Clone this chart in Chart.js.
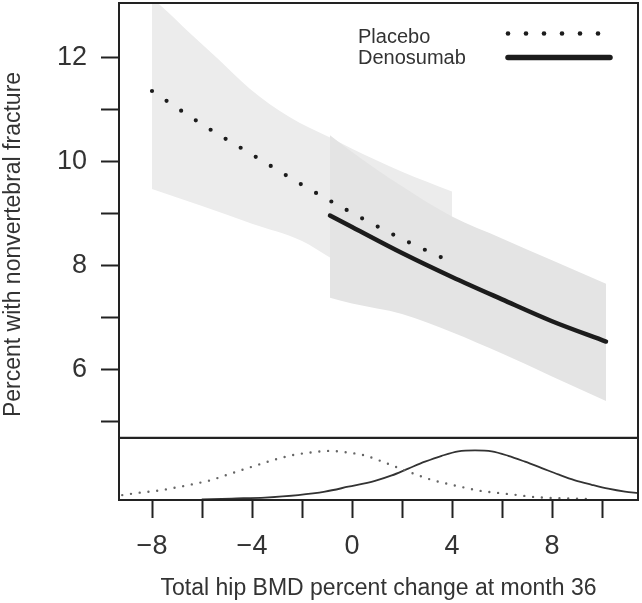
<!DOCTYPE html>
<html><head><meta charset="utf-8">
<script src="https://cdn.jsdelivr.net/npm/chart.js@4.4.1/dist/chart.umd.min.js"></script>
<style>html,body{margin:0;padding:0;background:#fff}#wrap{width:642px;height:603px}</style>
</head><body><div id="wrap"><canvas id="c" width="642" height="603"></canvas></div>
<script>
// ---- data ----
const placeboLineX = [-8, -6, -4, -2, 0, 2, 3.6];
const placeboLineY = [11.35, 10.71, 10.13, 9.55, 9.01, 8.51, 8.15];
const denosLineX = [-0.88, 0, 2, 4, 6, 8, 10.16];
const denosLineY = [8.96, 8.74, 8.24, 7.78, 7.35, 6.93, 6.54];

const placeboUpperX = [-8, -7.6, -6.5, -5.3, -4.1, -2.5, -0.9, 0, 2, 4];
const placeboUpperY = [13.12, 12.97, 12.47, 11.94, 11.40, 10.85, 10.46, 10.24, 9.80, 9.42];
const placeboLowerX = [-8, -6, -4, -2, -0.9, 0, 2, 4];
const placeboLowerY = [9.47, 9.14, 8.80, 8.47, 8.16, 7.92, 7.48, 7.02];

const denosUpperX = [-0.88, 0, 2, 4, 6, 8, 10.16];
const denosUpperY = [10.5, 10.18, 9.52, 8.94, 8.52, 8.10, 7.65];
const denosLowerX = [-0.88, 0, 2, 4, 6, 8, 10.16];
const denosLowerY = [7.38, 7.27, 7.07, 6.72, 6.31, 5.87, 5.40];

const placeboDensX = [-9.19, -8.48, -7.77, -7.08, -6.39, -5.68, -5.01, -4.35, -3.68, -2.97, -2.31, -1.61, -0.92, -0.21, 0.49, 1.12, 1.83, 2.45, 3.12, 3.83, 4.52, 5.21, 5.92, 6.63, 7.32, 8.05, 8.76, 9.45];
const placeboDensY = [0.10, 0.15, 0.19, 0.25, 0.32, 0.40, 0.51, 0.62, 0.73, 0.84, 0.92, 0.97, 1.00, 0.97, 0.91, 0.80, 0.66, 0.54, 0.42, 0.33, 0.25, 0.18, 0.14, 0.10, 0.06, 0.04, 0.03, 0.02];
const denosDensX = [-6.01, -4.81, -3.48, -2.15, -1.08, -0.15, 0.92, 1.59, 2.25, 2.92, 3.59, 4.25, 4.92, 5.59, 6.25, 6.92, 7.59, 8.25, 8.92, 9.59, 10.25, 10.92, 11.45];
const denosDensY = [0.01, 0.03, 0.05, 0.10, 0.17, 0.27, 0.39, 0.50, 0.64, 0.78, 0.90, 0.99, 1.01, 0.99, 0.90, 0.78, 0.65, 0.52, 0.40, 0.31, 0.23, 0.17, 0.14];

const xTickVals = [-8, -6, -4, -2, 0, 2, 4, 6, 8, 10];
const xTickLabels = ['\u22128', '', '\u22124', '', '0', '', '4', '', '8', ''];
const yTickVals = [5, 6, 7, 8, 9, 10, 11, 12];
const yTickLabels = ['', '6', '', '8', '', '10', '', '12'];

const seriesNames = ['Placebo', 'Denosumab'];
const xTitle = 'Total hip BMD percent change at month 36';
const yTitle = 'Percent with nonvertebral fracture';

// ---- helpers ----
const pts = (xs, ys) => xs.map((x, i) => ({x: x, y: ys[i]}));
const FONT = '"Liberation Sans", Arial, Helvetica, sans-serif';
const INK = '#1c1c1c';
const TXT = '#333333';

const framePlugin = {
  id: 'frame',
  afterDatasetsDraw(chart) {
    const {ctx, chartArea} = chart;
    ctx.save();
    ctx.strokeStyle = '#222';
    ctx.lineWidth = 2;
    [chart.scales.y, chart.scales.yd].forEach(s => {
      ctx.strokeRect(chartArea.left, s.top, chartArea.right - chartArea.left, s.bottom - s.top);
    });
    ctx.restore();
  },
  afterDraw(chart) {
    const {ctx, chartArea} = chart;
    ctx.save();
    ctx.fillStyle = TXT;
    ctx.font = '23px ' + FONT;
    ctx.textAlign = 'center';
    ctx.textBaseline = 'middle';
    ctx.translate(14, (chartArea.top + chartArea.bottom) / 2 - 7);
    ctx.rotate(-Math.PI / 2);
    ctx.fillText(yTitle, 0, 0);
    ctx.restore();
    ctx.save();
    const r = chartArea.right, t = chartArea.top;
    ctx.fillStyle = TXT;
    ctx.font = '20px ' + FONT;
    ctx.textAlign = 'left';
    ctx.textBaseline = 'alphabetic';
    ctx.fillText(seriesNames[0], r - 280, t + 40);
    ctx.fillText(seriesNames[1], r - 280, t + 61);
    ctx.fillStyle = INK;
    for (let i = 0; i < 6; i++) {
      ctx.beginPath();
      ctx.arc(r - 130 + i * 18, t + 30.5, 2.3, 0, Math.PI * 2);
      ctx.fill();
    }
    ctx.strokeStyle = INK;
    ctx.lineWidth = 5.5;
    ctx.lineCap = 'round';
    ctx.beginPath();
    ctx.moveTo(r - 130, t + 54.5);
    ctx.lineTo(r - 28, t + 54.5);
    ctx.stroke();
    ctx.restore();
  }
};

const tickGrid = {display: true, drawOnChartArea: false, drawTicks: true, tickLength: 18, tickWidth: 2, tickColor: '#222'};

new Chart(document.getElementById('c'), {
  type: 'line',
  data: {
    datasets: [
      {label: seriesNames[1], data: pts(denosLineX, denosLineY), yAxisID: 'y', borderColor: INK, borderWidth: 4.5,
       borderCapStyle: 'round', pointRadius: 0, cubicInterpolationMode: 'monotone', fill: false, order: 1},
      {label: seriesNames[0], data: pts(placeboLineX, placeboLineY), yAxisID: 'y', borderColor: INK, borderWidth: 4.2,
       borderDash: [0, 17.55], borderCapStyle: 'round', pointRadius: 0, cubicInterpolationMode: 'monotone', fill: false, order: 2},
      {label: 'den upper', data: pts(denosUpperX, denosUpperY), yAxisID: 'y', borderColor: 'transparent', borderWidth: 0,
       pointRadius: 0, cubicInterpolationMode: 'monotone', fill: 3, backgroundColor: '#e4e4e4', order: 3},
      {label: 'den lower', data: pts(denosLowerX, denosLowerY), yAxisID: 'y', borderColor: 'transparent', borderWidth: 0,
       pointRadius: 0, cubicInterpolationMode: 'monotone', fill: false, order: 4},
      {label: 'pla upper', data: pts(placeboUpperX, placeboUpperY), yAxisID: 'y', borderColor: 'transparent', borderWidth: 0,
       pointRadius: 0, cubicInterpolationMode: 'monotone', fill: 5, backgroundColor: '#ececec', order: 5},
      {label: 'pla lower', data: pts(placeboLowerX, placeboLowerY), yAxisID: 'y', borderColor: 'transparent', borderWidth: 0,
       pointRadius: 0, cubicInterpolationMode: 'monotone', fill: false, order: 6},
      {label: 'pla dens', data: pts(placeboDensX, placeboDensY), yAxisID: 'yd', borderColor: '#666', borderWidth: 2.4,
       borderDash: [0, 8.8], borderCapStyle: 'round', pointRadius: 0, cubicInterpolationMode: 'monotone', fill: false, order: 0},
      {label: 'den dens', data: pts(denosDensX, denosDensY), yAxisID: 'yd', borderColor: '#333', borderWidth: 1.8,
       pointRadius: 0, cubicInterpolationMode: 'monotone', fill: false, order: 0}
    ]
  },
  options: {
    responsive: false,
    animation: false,
    devicePixelRatio: 1,
    layout: {padding: {top: 3, right: 4, left: 0, bottom: 0}},
    plugins: {legend: {display: false}, tooltip: {enabled: false}, filler: {propagate: false}},
    scales: {
      x: {
        type: 'linear', min: -9.32, max: 11.44,
        afterBuildTicks: s => { s.ticks = xTickVals.map(v => ({value: v})); },
        afterFit: s => { s.paddingLeft = 0; s.paddingRight = 0; },
        ticks: {autoSkip: false, maxRotation: 0, padding: 12, color: TXT, font: {family: FONT, size: 27},
                callback: (v, i) => xTickLabels[i]},
        grid: tickGrid,
        border: {display: false},
        title: {display: true, text: xTitle, color: TXT, font: {family: FONT, size: 23}, padding: {top: 0, bottom: 1}}
      },
      y: {
        type: 'linear', position: 'left', min: 4.69, max: 13.04, stack: 'panels', stackWeight: 434, weight: 2,
        afterBuildTicks: s => { s.ticks = yTickVals.map(v => ({value: v})); },
        afterFit: s => { s.width = 119; s.paddingTop = 0; s.paddingBottom = 0; },
        ticks: {autoSkip: false, padding: 14, color: TXT, font: {family: FONT, size: 27},
                callback: (v, i) => yTickLabels[i]},
        grid: tickGrid,
        border: {display: false}
      },
      yd: {
        type: 'linear', position: 'left', min: 0, max: 1.265, stack: 'panels', stackWeight: 62, weight: 1,
        afterFit: s => { s.width = 119; s.paddingTop = 0; s.paddingBottom = 0; },
        ticks: {display: false},
        grid: {display: false},
        border: {display: false}
      }
    }
  },
  plugins: [framePlugin]
});
</script>
</body></html>
